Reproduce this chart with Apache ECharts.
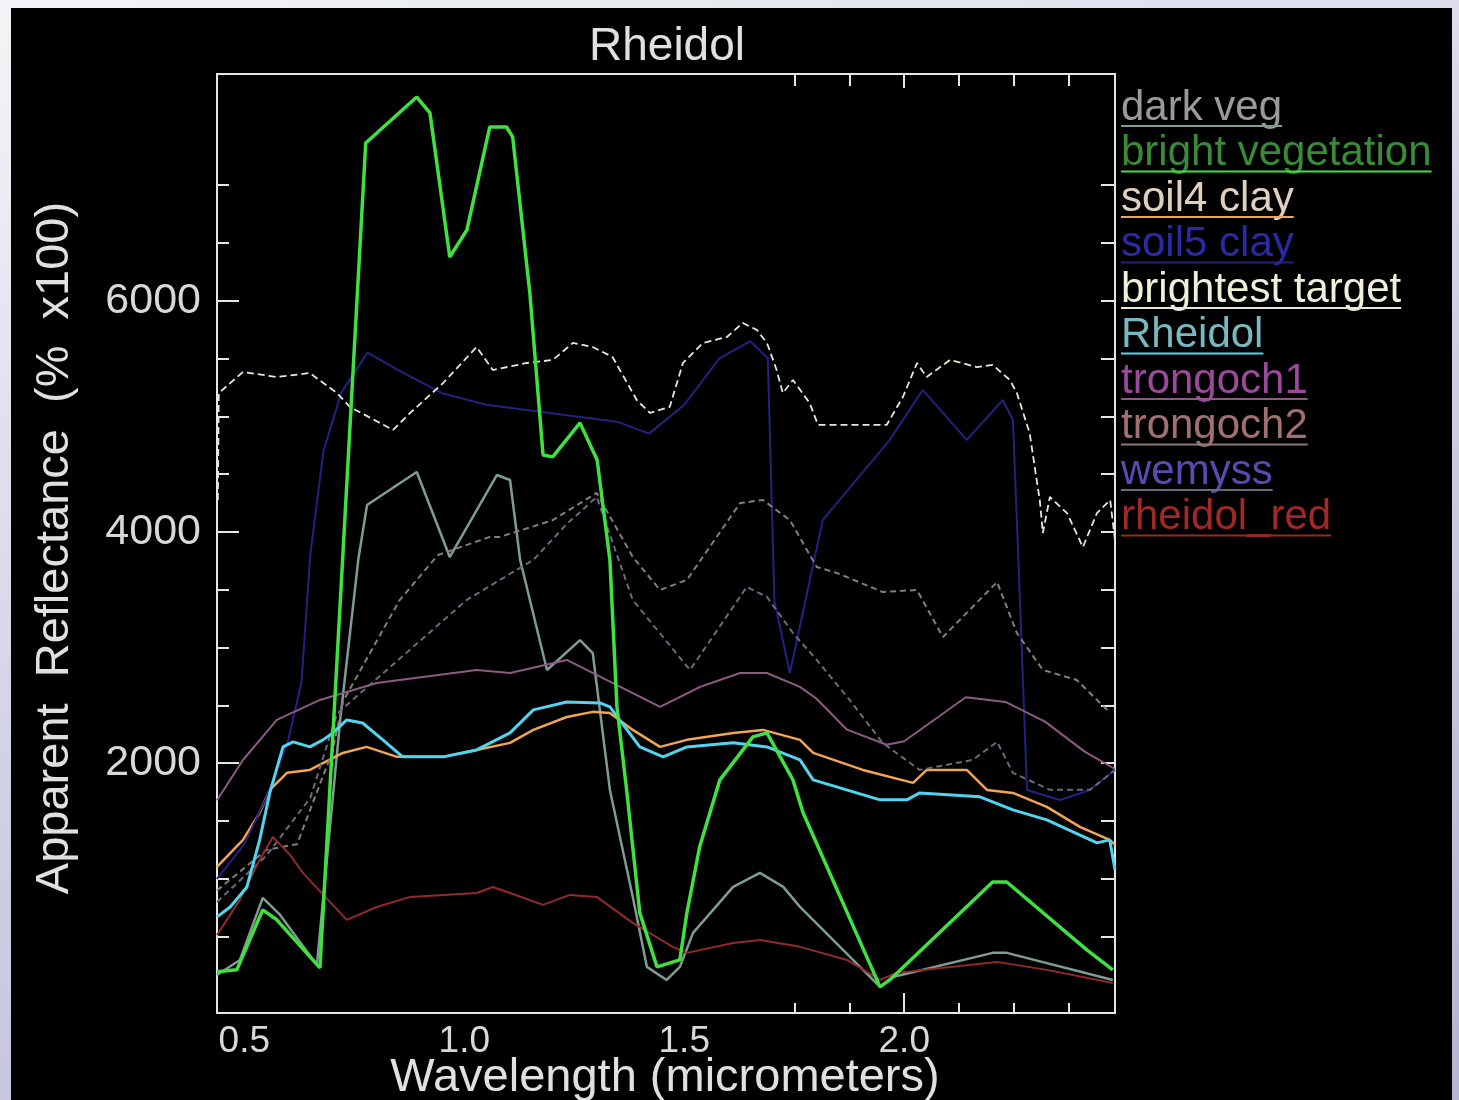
<!DOCTYPE html>
<html><head><meta charset="utf-8">
<script src="https://cdn.jsdelivr.net/npm/echarts@6/dist/echarts.min.js"></script>
<style>
html,body{margin:0;padding:0;width:1459px;height:1100px;overflow:hidden;
background:linear-gradient(160deg,#f4f4f8 0%,#d0d0e4 50%,#b4b4d4 100%);}
#c{position:absolute;left:11px;top:8px;width:1441px;height:1092px;background:#000;}
</style></head><body><div id="c"></div>
<script>
// ---- data (wavelength in micrometers, reflectance % x100) ----
const seriesNames = ['dark veg','bright vegetation','soil4 clay','soil5 clay','brightest target','Rheidol','trongoch1','trongoch2','wemyss','rheidol_red'];
const xTickLabels = [0.5, 1.0, 1.5, 2.0];
const yTickLabels = [2000, 4000, 6000];

const darkVeg = [[0.438,169],[0.490,299],[0.542,835],[0.581,690],[0.665,256],[0.718,2374],[0.759,3757],[0.779,4233],[0.892,4518],[0.967,3783],[1.074,4492],[1.104,4449],[1.127,3757],[1.188,2806],[1.263,3065],[1.292,2953],[1.331,1769],[1.383,844],[1.415,239],[1.460,126],[1.490,239],[1.520,533],[1.611,931],[1.672,1052],[1.725,931],[1.763,758],[1.945,66],[1.974,152],[2.201,360],[2.233,360],[2.474,126]];
const brightVeg = [[0.438,196],[0.483,213],[0.542,732],[0.574,646],[0.672,230],[0.776,7363],[0.892,7761],[0.922,7623],[0.967,6378],[1.006,6611],[1.058,7502],[1.096,7502],[1.110,7416],[1.149,6067],[1.179,4666],[1.201,4649],[1.263,4943],[1.302,4623],[1.331,3758],[1.347,2487],[1.369,1770],[1.399,706],[1.438,239],[1.490,300],[1.506,706],[1.535,1277],[1.581,1856],[1.656,2228],[1.688,2262],[1.747,1856],[1.770,1571],[1.945,66],[1.967,126],[2.201,973],[2.233,973],[2.415,386],[2.474,213]];
const soil4 = [[0.438,1103],[0.497,1337],[0.535,1571],[0.558,1770],[0.597,1917],[0.649,1942],[0.724,2089],[0.778,2141],[0.847,2055],[0.952,2055],[1.028,2115],[1.104,2176],[1.157,2288],[1.233,2400],[1.292,2444],[1.331,2435],[1.383,2288],[1.445,2141],[1.506,2202],[1.611,2262],[1.679,2288],[1.763,2202],[1.793,2089],[1.906,1942],[2.020,1830],[2.051,1942],[2.142,1942],[2.188,1769],[2.247,1743],[2.324,1622],[2.399,1449],[2.467,1337],[2.479,1294]];
const soil5 = [[0.438,1000],[0.50,1300],[0.55,1700],[0.60,2200],[0.63,2700],[0.65,3800],[0.68,4700],[0.72,5200],[0.78,5550],[0.85,5400],[0.95,5200],[1.05,5100],[1.15,5050],[1.25,5000],[1.35,4950],[1.42,4850],[1.50,5100],[1.58,5500],[1.65,5650],[1.69,5500],[1.705,3400],[1.740,2780],[1.815,4105],[1.967,4796],[2.042,5228],[2.142,4796],[2.224,5141],[2.247,4968],[2.263,3411],[2.279,1769],[2.354,1682],[2.422,1769],[2.479,1942]];
const brightest = [[0.440,4276],[0.442,5201],[0.497,5383],[0.574,5340],[0.649,5374],[0.711,5201],[0.740,5081],[0.838,4882],[0.877,5029],[0.952,5288],[1.028,5599],[1.065,5400],[1.142,5461],[1.201,5487],[1.247,5634],[1.292,5599],[1.337,5513],[1.392,5141],[1.422,5029],[1.467,5081],[1.497,5461],[1.542,5634],[1.597,5686],[1.633,5807],[1.665,5747],[1.688,5634],[1.710,5400],[1.724,5201],[1.747,5314],[1.785,5115],[1.804,4925],[1.960,4925],[1.997,5167],[2.029,5461],[2.051,5340],[2.104,5487],[2.165,5426],[2.201,5444],[2.240,5314],[2.256,5201],[2.285,4855],[2.301,4449],[2.308,4276],[2.315,3991],[2.331,4302],[2.370,4163],[2.406,3869],[2.438,4163],[2.468,4276],[2.479,3930]];
const rheidol = [[0.438,671],[0.468,757],[0.506,930],[0.535,1337],[0.558,1743],[0.588,2141],[0.611,2185],[0.649,2141],[0.679,2202],[0.701,2262],[0.733,2374],[0.769,2348],[0.815,2202],[0.860,2055],[0.952,2055],[1.028,2115],[1.104,2262],[1.157,2461],[1.233,2530],[1.308,2521],[1.331,2487],[1.399,2141],[1.452,2055],[1.506,2141],[1.611,2176],[1.688,2141],[1.763,2029],[1.793,1856],[1.945,1683],[2.006,1683],[2.035,1743],[2.172,1709],[2.247,1597],[2.324,1510],[2.438,1311],[2.467,1337],[2.479,1078]];
const trongoch1 = [[0.438,1680],[0.497,2028],[0.574,2374],[0.672,2547],[0.801,2694],[1.028,2806],[1.104,2780],[1.233,2893],[1.383,2607],[1.445,2487],[1.536,2660],[1.627,2780],[1.688,2780],[1.763,2660],[1.80,2560],[1.87,2290],[1.96,2160],[2.0,2190],[2.14,2570],[2.23,2530],[2.32,2360],[2.41,2100],[2.479,1950]];
const trongoch2 = [[0.438,900],[0.55,1250],[0.62,1300],[0.70,2100],[0.725,2540],[0.853,3410],[0.94,3800],[1.058,3957],[1.081,3957],[1.20,4100],[1.301,4337],[1.383,3783],[1.445,3498],[1.506,3585],[1.627,4250],[1.679,4276],[1.740,4102],[1.801,3697],[1.847,3645],[1.951,3481],[2.029,3498],[2.088,3091],[2.211,3567],[2.256,3126],[2.315,2806],[2.392,2720],[2.468,2435]];
const wemyss = [[0.438,800],[0.55,1200],[0.65,1700],[0.711,2430],[1.005,3410],[1.081,3585],[1.157,3758],[1.233,4069],[1.301,4302],[1.383,3411],[1.513,2806],[1.642,3524],[1.688,3438],[1.747,3126],[1.801,2893],[1.876,2547],[1.951,2175],[2.035,1942],[2.156,2029],[2.211,2185],[2.247,1917],[2.331,1770],[2.422,1770],[2.479,1942]];
const rheidolRed = [[0.438,515],[0.490,818],[0.535,1164],[0.565,1363],[0.604,1207],[0.633,1052],[0.733,645],[0.801,757],[0.877,844],[1.028,878],[1.065,930],[1.104,878],[1.179,775],[1.240,861],[1.301,844],[1.383,619],[1.474,412],[1.506,360],[1.611,446],[1.672,472],[1.763,412],[1.870,299],[1.945,126],[1.983,187],[2.210,282],[2.324,213],[2.474,100]];

const seriesData = [darkVeg, brightVeg, soil4, soil5, brightest, rheidol, trongoch1, trongoch2, wemyss, rheidolRed];
const lineColors = ['#7f9c94','#3fe03f','#f0a454','#222280','#e8e8d4','#52d4ee','#8c5a84','#8a7a80','#6a6a7a','#922a2a'];
const textColors = ['#9a9a9a','#3a8a3a','#e0d0c0','#2a2aa8','#f0f0d8','#7ab8c0','#9a4a9a','#a07070','#5a4ab0','#a02828'];
const lineWidths = [2.5,3.5,2.5,2,1.8,3,2,2,2,2];
const lineTypes = ['solid','solid','solid','solid',[7,4],'solid','solid',[6,4],[6,4],'solid'];

const FONT = '"Liberation Sans", Arial, sans-serif';
const OX = 11, OY = 8; // chart div offset in page
const minorX = [1.75,1.875,2.125,2.25,2.375];
const majorX = [2.0];
const minorY = [500,1000,1500,2500,3000,3500,4500,5000,5500,6500,7000];
const majorY = [2000,4000,6000];
const XMIN = 0.438, XMAX = 2.479, YMIN = -160, YMAX = 7960;

const chart = echarts.init(document.getElementById('c'), null, {renderer:'canvas'});
const axisCol = '#e6e6e6';
function xAx(pos, ticks, len, showLine, showLabel){
  return {type:'value', position:pos, min:XMIN, max:XMAX, gridIndex:0,
    axisLine:{show:showLine, onZero:false, lineStyle:{color:axisCol,width:2}},
    axisTick:{show:true, inside:true, length:len, customValues:ticks, lineStyle:{color:axisCol,width:2}},
    axisLabel:{show:showLabel, customValues:xTickLabels, formatter:v=>v.toFixed(1), color:'#d8d8d8', fontFamily:FONT, fontSize:37, margin:10},
    splitLine:{show:false}};
}
function yAx(pos, ticks, len, showLine, showLabel){
  return {type:'value', position:pos, min:YMIN, max:YMAX, gridIndex:0,
    axisLine:{show:showLine, onZero:false, lineStyle:{color:axisCol,width:2}},
    axisTick:{show:true, inside:true, length:len, customValues:ticks, lineStyle:{color:axisCol,width:2}},
    axisLabel:{show:showLabel, customValues:yTickLabels, formatter:v=>String(v), color:'#d8d8d8', fontFamily:FONT, fontSize:43, margin:16},
    splitLine:{show:false}};
}

// measure legend text widths
const mctx = document.createElement('canvas').getContext('2d');
const LEG_FS = 42;
mctx.font = LEG_FS + 'px ' + FONT;
const legendGraphics = [];
seriesNames.forEach((n,i)=>{
  const y = 108 + i*45.5 - OY;
  const x = 1121 - OX;
  const w = mctx.measureText(n).width;
  legendGraphics.push({type:'text', x:x, y:y, style:{text:n, fill:textColors[i], font:LEG_FS+'px '+FONT, textAlign:'left', textVerticalAlign:'middle'}});
  legendGraphics.push({type:'line', shape:{x1:x, y1:y+18, x2:x+w, y2:y+18}, style:{stroke:lineColors[i], lineWidth:2}});
});

const option = {
  backgroundColor:'#000',
  animation:false,
  grid:{left:217-OX, top:74-OY, right:(OX+1441)-1115, bottom:(OY+1092)-1013, containLabel:false},
  xAxis:[ xAx('bottom', minorX, 10, true, true), xAx('bottom', majorX, 20, false, false),
          xAx('top', minorX, 12, true, false), xAx('top', majorX, 14, false, false)],
  yAxis:[ yAx('left', minorY, 12, true, true), yAx('left', majorY, 22, false, false),
          yAx('right', minorY, 14, true, false), yAx('right', majorY, 14, false, false)],
  series: seriesData.map((d,i)=>({
    name:seriesNames[i], type:'line', data:d, xAxisIndex:0, yAxisIndex:0,
    showSymbol:false, smooth:false, z: i===1?10:(i===5?9:5),
    lineStyle:{color:lineColors[i], width:lineWidths[i], type:lineTypes[i]}
  })),
  graphic: legendGraphics.concat([
    {type:'text', x:667-OX, y:47-OY, style:{text:'Rheidol', fill:'#e0e0e0', font:'46px '+FONT, textAlign:'center', textVerticalAlign:'middle'}},
    {type:'text', x:665-OX, y:1078-OY, style:{text:'Wavelength (micrometers)', fill:'#e0e0e0', font:'47px '+FONT, textAlign:'center', textVerticalAlign:'middle'}},
    {type:'text', x:55-OX, y:548-OY, rotation:Math.PI/2, style:{text:'Apparent  Reflectance  (%  x100)', fill:'#e0e0e0', font:'47px '+FONT, textAlign:'center', textVerticalAlign:'middle'}}
  ])
};
chart.setOption(option);
</script></body></html>
